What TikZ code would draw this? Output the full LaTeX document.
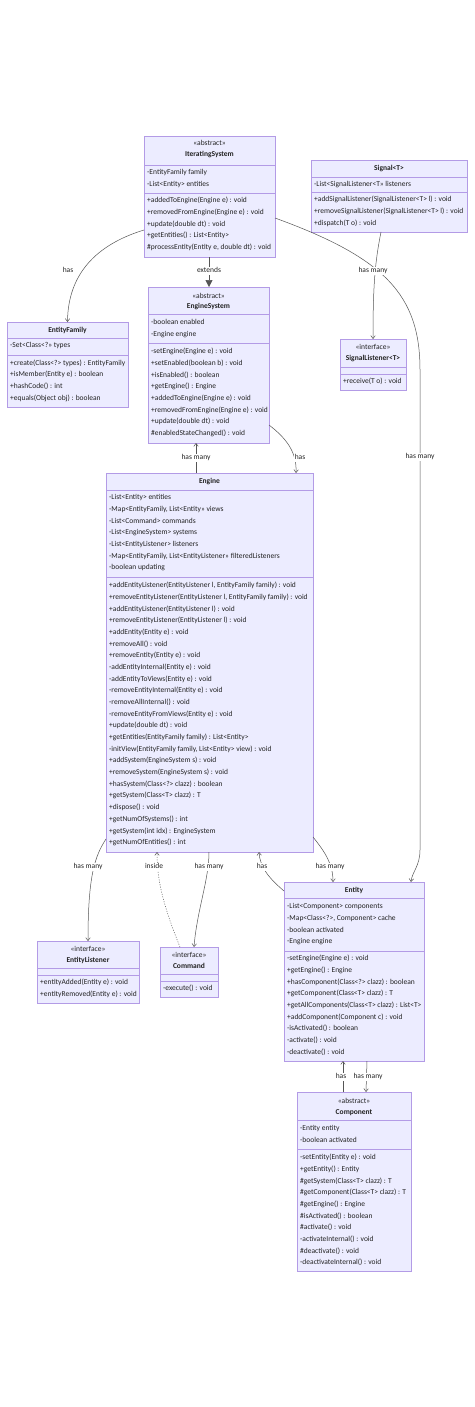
\documentclass[tikz,border=0pt]{standalone}
\usepackage{fontspec}
\setmainfont{Carlito}
\usetikzlibrary{calc,arrows.meta}
\definecolor{boxfill}{HTML}{ECECFF}
\definecolor{boxlinebase}{HTML}{9370DB}
\colorlet{boxline}{boxlinebase!70!white}
\definecolor{edgec}{HTML}{555555}
\definecolor{txtc}{HTML}{222222}
\tikzset{
  classbox/.style={draw=boxline, fill=boxfill, line width=0.6pt, inner sep=0pt, outer sep=0pt},
  divl/.style={draw=boxline, line width=0.6pt},
  mtxt/.style={anchor=west, inner sep=0pt, text height=5pt, text depth=1.5pt, font=\fontsize{7.5}{8}\selectfont, text=txtc},
  ttl/.style={anchor=center, inner sep=0pt, text height=5pt, text depth=1.5pt, font=\fontsize{7.5}{8}\selectfont\bfseries, text=txtc},
  stereo/.style={anchor=center, inner sep=0pt, text height=5pt, text depth=1.5pt, font=\fontsize{7.5}{8}\selectfont, text=txtc},
  lbl/.style={anchor=center, inner sep=1pt, fill=white, text height=5pt, text depth=1.5pt, font=\fontsize{7.5}{8}\selectfont, text=txtc},
  rel/.style={draw=edgec, line width=0.5pt, -{Straight Barb[length=3pt,width=4.5pt]}},
  ext/.style={draw=edgec, line width=0.5pt, -{Triangle[length=7pt,width=7pt]}},
  dotrel/.style={rel, dash pattern=on 1pt off 1.5pt},
}
% #1 name, #2 x1, #3 y1, #4 x2, #5 y2
\newcommand\umlbox[5]{\node[classbox, minimum width={(#4-#2)*1pt}, minimum height={(#5-#3)*1pt}] (#1) at ({(#2+#4)/2},{(#3+#5)/2}) {};}
% #1 name prefix, #2 x, #3 y0, #4 dy, #5 list
\newcommand\rowsat[5]{\foreach \t [count=\i from 0] in {#5} {\node[mtxt] (#1-\i) at ({#2},{#3+\i*#4}) {\t};}}
% #1 x1, #2 x2, #3 y
\newcommand\divat[3]{\draw[divl] (#1,#3) -- (#2,#3);}
\begin{document}
\begin{tikzpicture}[x=1pt,y=-1pt]
\fill[white] (0,0) rectangle (474,1407);
\useasboundingbox (0,0) rectangle (474,1407);

% ---------- IteratingSystem
\umlbox{iter}{144}{136}{275}{257}
\node[stereo] (iter-st) at (209.5,144) {«abstract»};
\node[ttl] (iter-t) at (209.5,155) {IteratingSystem};
\divat{144}{275}{165}
\rowsat{iterA}{147}{173}{11.68}{{-EntityFamily family},{-List<Entity> entities}}
\divat{144}{275}{193}
\rowsat{iterM}{147}{201}{11.68}{{+addedToEngine(Engine e) : void},{+removedFromEngine(Engine e) : void},{+update(double dt) : void},{+getEntities() : List<Entity>},{\#processEntity(Entity e, double dt) : void}}

% ---------- Signal<T>
\umlbox{sig}{311}{160}{467}{232}
\node[ttl] (sig-t) at (389,169) {Signal<T>};
\divat{311}{467}{177}
\rowsat{sigA}{314}{185}{11.68}{{-List<SignalListener<T>> listeners}}
\divat{311}{467}{192}
\rowsat{sigM}{314}{200}{11.68}{{+addSignalListener(SignalListener<T> l) : void},{+removeSignalListener(SignalListener<T> l) : void},{+dispatch(T o) : void}}

% ---------- EntityFamily
\umlbox{ef}{7}{322}{128}{407}
\node[ttl] (ef-t) at (67.5,331) {EntityFamily};
\divat{7}{128}{338}
\rowsat{efA}{10}{346}{11.68}{{-Set<Class<?>> types}}
\divat{7}{128}{355}
\rowsat{efM}{10}{363.5}{11.68}{{+create(Class<?> types) : EntityFamily},{+isMember(Entity e) : boolean},{+hashCode() : int},{+equals(Object obj) : boolean}}

% ---------- EngineSystem
\umlbox{es}{148}{287}{269}{443}
\node[stereo] (es-st) at (208.5,297) {«abstract»};
\node[ttl] (es-t) at (208.5,307) {EngineSystem};
\divat{148}{269}{314}
\rowsat{esA}{151}{323}{11.68}{{-boolean enabled},{-Engine engine}}
\divat{148}{269}{343}
\rowsat{esM}{151}{352}{11.68}{{-setEngine(Engine e) : void},{+setEnabled(boolean b) : void},{+isEnabled() : boolean},{+getEngine() : Engine},{+addedToEngine(Engine e) : void},{+removedFromEngine(Engine e) : void},{+update(double dt) : void},{\#enabledStateChanged() : void}}

% ---------- SignalListener<T>
\umlbox{sl}{340}{339}{406}{390}
\node[stereo] (sl-st) at (373,348) {«interface»};
\node[ttl] (sl-t) at (373,359) {SignalListener<T>};
\divat{340}{406}{367}
\divat{340}{406}{374}
\rowsat{slM}{343}{382}{11.68}{{+receive(T o) : void}}

% ---------- Engine
\umlbox{eng}{106}{473}{313}{852}
\node[ttl] (eng-t) at (209.5,482) {Engine};
\divat{106}{313}{490}
\rowsat{engA}{109}{498}{11.68}{{-List<Entity> entities},{-Map<EntityFamily, List<Entity>> views},{-List<Command> commands},{-List<EngineSystem> systems},{-List<EntityListener> listeners},{-Map<EntityFamily, List<EntityListener>> filteredListeners},{-boolean updating}}
\divat{106}{313}{577}
\rowsat{engM}{109}{586}{11.68}{{+addEntityListener(EntityListener l, EntityFamily family) : void},{+removeEntityListener(EntityListener l, EntityFamily family) : void},{+addEntityListener(EntityListener l) : void},{+removeEntityListener(EntityListener l) : void},{+addEntity(Entity e) : void},{+removeAll() : void},{+removeEntity(Entity e) : void},{-addEntityInternal(Entity e) : void},{-addEntityToViews(Entity e) : void},{-removeEntityInternal(Entity e) : void},{-removeAllInternal() : void},{-removeEntityFromViews(Entity e) : void},{+update(double dt) : void},{+getEntities(EntityFamily family) : List<Entity>},{-initView(EntityFamily family, List<Entity> view) : void},{+addSystem(EngineSystem s) : void},{+removeSystem(EngineSystem s) : void},{+hasSystem(Class<?> clazz) : boolean},{+getSystem(Class<T> clazz) : T},{+dispose() : void},{+getNumOfSystems() : int},{+getSystem(int idx) : EngineSystem},{+getNumOfEntities() : int}}

% ---------- EntityListener
\umlbox{el}{37}{941}{139}{1003}
\node[stereo] (el-st) at (88,950) {«interface»};
\node[ttl] (el-t) at (88,961) {EntityListener};
\divat{37}{139}{968}
\divat{37}{139}{975}
\rowsat{elM}{40}{983}{11.68}{{+entityAdded(Entity e) : void},{+entityRemoved(Entity e) : void}}

% ---------- Command
\umlbox{cmd}{160}{947}{218}{997}
\node[stereo] (cmd-st) at (189,956) {«interface»};
\node[ttl] (cmd-t) at (189,967) {Command};
\divat{160}{218}{974}
\divat{160}{218}{981}
\rowsat{cmdM}{163}{989}{11.68}{{-execute() : void}}

% ---------- Entity
\umlbox{ent}{284}{882}{424}{1061}
\node[ttl] (ent-t) at (354,891) {Entity};
\divat{284}{424}{898}
\rowsat{entA}{287}{907}{11.68}{{-List<Component> components},{-Map<Class<?>, Component> cache},{-boolean activated},{-Engine engine}}
\divat{284}{424}{951}
\rowsat{entM}{287}{959}{11.68}{{-setEngine(Engine e) : void},{+getEngine() : Engine},{+hasComponent(Class<?> clazz) : boolean},{+getComponent(Class<T> clazz) : T},{+getAllComponents(Class<T> clazz) : List<T>},{+addComponent(Component c) : void},{-isActivated() : boolean},{-activate() : void},{-deactivate() : void}}

% ---------- Component
\umlbox{comp}{297}{1092}{411}{1271}
\node[stereo] (comp-st) at (354,1102) {«abstract»};
\node[ttl] (comp-t) at (354,1113) {Component};
\divat{297}{411}{1120}
\rowsat{compA}{300}{1129}{11.68}{{-Entity entity},{-boolean activated}}
\divat{297}{411}{1149}
\rowsat{compM}{300}{1158}{11.68}{{-setEntity(Entity e) : void},{+getEntity() : Entity},{\#getSystem(Class<T> clazz) : T},{\#getComponent(Class<T> clazz) : T},{\#getEngine() : Engine},{\#isActivated() : boolean},{\#activate() : void},{-activateInternal() : void},{\#deactivate() : void},{-deactivateInternal() : void}}

% ---------- connectors
% IteratingSystem -> EntityFamily : has
\draw[rel] ($(iter.north west)+(0,94)$) .. controls (95,245) and (68,275) .. (ef.north);
% IteratingSystem -> EngineSystem : extends
\draw[ext] ($(iter.south west)+(65,0)$) -- ($(es.north west)+(61,0)$);
% IteratingSystem -> Entity : has many
\draw[rel] ($(iter.north east)+(0,82)$) .. controls (385,258) and (420,295) .. (420,370) -- (420,850) .. controls (420,866) and (412,872) .. ($(ent.north east)+(-13,0)$);
% Signal -> SignalListener : has many
\draw[rel] ($(sig.south west)+(70,0)$) .. controls (375,262) and (373,285) .. (sl.north);
% Engine -> EngineSystem : has many
\draw[rel] ($(eng.north west)+(90,0)$) -- ($(es.south west)+(48,0)$);
% EngineSystem -> Engine : has
\draw[rel] ($(es.north east)+(0,138)$) .. controls (286,438) and (297,452) .. ($(eng.north west)+(190,0)$);
% Engine -> EntityListener : has many
\draw[rel] ($(eng.south west)+(0,-13)$) .. controls (95,856) and (88,875) .. (el.north);
% Command -> Engine : inside
\draw[dotrel] ($(cmd.north west)+(20,0)$) .. controls (163,905) and (157,880) .. ($(eng.south west)+(51,0)$);
% Engine -> Command : has many
\draw[rel] ($(eng.south west)+(103,0)$) .. controls (209,880) and (197,910) .. ($(cmd.north west)+(34,0)$);
% Entity -> Engine : has
\draw[rel] ($(ent.north west)+(0,9)$) .. controls (270,879) and (260,868) .. ($(eng.south west)+(153,0)$);
% Engine -> Entity : has many
\draw[rel] ($(eng.south east)+(0,-15)$) .. controls (325,852) and (333,864) .. ($(ent.north west)+(49,0)$);
% Component -> Entity : has
\draw[rel] ($(comp.north west)+(46,0)$) -- ($(ent.south west)+(59,0)$);
% Entity -> Component : has many
\draw[rel] ($(ent.south west)+(83,0)$) -- ($(comp.north west)+(69,0)$);

% ---------- labels
\node[lbl] (l1) at (68,271) {has};
\node[lbl] (l2) at (209,271) {extends};
\node[lbl] (l3) at (373,271) {has many};
\node[lbl] (l4) at (420,457) {has many};
\node[lbl] (l5) at (196,458) {has many};
\node[lbl] (l6) at (300,458) {has};
\node[lbl] (l7) at (88,867) {has many};
\node[lbl] (l8) at (154,867) {inside};
\node[lbl] (l9) at (209,867) {has many};
\node[lbl] (l10) at (262,867) {has};
\node[lbl] (l11) at (330,867) {has many};
\node[lbl] (l12) at (341,1077) {has};
\node[lbl] (l13) at (368,1077) {has many};
\end{tikzpicture}
\end{document}
